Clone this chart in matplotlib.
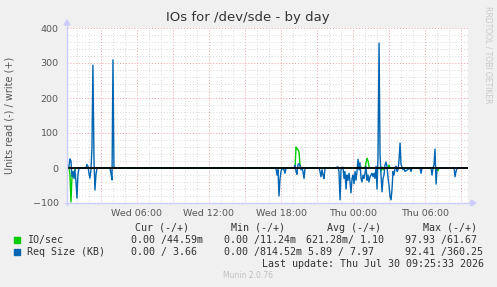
import numpy as np
import matplotlib
matplotlib.use("Agg")
import matplotlib.pyplot as plt
from matplotlib.lines import Line2D
from matplotlib.patches import Polygon, Rectangle

# 时间单位：小时，0 = Wed 00:00
blue_t = [0.17, 0.33, 0.42, 0.5, 0.58, 0.67, 0.75, 0.83, 0.92, 1.0, 1.08, 1.17,
          1.75, 1.83, 1.92, 2.0, 2.08, 2.17, 2.25, 2.33, 2.42, 2.5, 2.58, 2.67,
          3.75, 3.83, 3.92, 4.0, 4.08, 4.17,
          17.58, 17.67, 17.75, 17.83, 17.92, 18.0, 18.08, 18.25, 18.33, 18.42,
          19.08, 19.17, 19.25, 19.33, 19.42, 19.5, 19.58, 19.67, 19.75, 19.83, 19.92, 20.0,
          21.17, 21.25, 21.33, 21.42, 21.5, 21.58, 21.67,
          22.58, 22.67, 22.75, 22.83, 22.92, 23.0, 23.08, 23.17, 23.25, 23.33, 23.42,
          23.5, 23.58, 23.67, 23.75, 23.83, 23.92, 24.0, 24.08, 24.17, 24.25, 24.33,
          24.42, 24.5, 24.58, 24.67, 24.75, 24.83, 24.92, 25.0, 25.08, 25.17, 25.25,
          25.33, 25.42, 25.5, 25.58, 25.67, 25.75, 25.83, 25.92, 26.0, 26.08, 26.17,
          26.25, 26.33, 26.42, 26.5, 26.58, 26.67, 26.75, 26.83, 26.92, 27.0, 27.08,
          27.17, 27.25, 27.33, 27.42, 27.5, 27.58, 27.67, 27.75, 27.83, 27.92, 28.0,
          28.17, 28.25, 28.33, 28.75, 28.83, 28.92,
          29.58, 29.67, 29.75, 30.5, 30.58, 30.67, 30.75, 30.83, 30.92, 31.0,
          32.42, 32.5, 32.58, 32.67, 33.58]
blue_v = [0, 5, 26, 20, -25, -10, -30, -5, -40, -86, -20, 0,
          0, 10, 5, -15, -29, -5, 60, 294, 20, -63, -20, 0,
          0, -15, -34, 309, 5, 0,
          0, -20, -5, -80, -30, -10, 0, -5, -15, 0,
          0, 8, -10, -18, 11, 12, 8, -5, 0, -10, -30, 0,
          0, -10, -25, -5, -20, -30, 0,
          0, 3, 3, -10, -91, -5, 2, 2, -30, -10, -60,
          -20, -35, -15, -40, -71, -30, -20, -45, -10, -35, -10,
          25, -5, 15, -30, -40, -20, -30, -15, 5, -35, -20,
          -40, -25, -20, -15, -25, -15, -30, 5, -60, 30, 357,
          40, -20, -68, -30, -20, 10, 17, 5, -30, -50, -80,
          -91, -60, -10, -20, 0, 5, -10, -5, 20, 71, 10,
          -5, 0, -10, 0, -10, 0,
          0, -15, 0, 0, -20, 0, 10, 54, -46, 0,
          0, -25, -10, 0, 0]

green_t = [0.17, 0.33, 0.42, 0.5, 0.58, 0.67, 0.75, 0.83, 0.92,
           3.92, 4.0, 4.08,
           19.17, 19.25, 19.33, 19.42, 19.5, 19.58, 19.67,
           24.42, 24.5, 24.58, 24.67, 24.75,
           25.0, 25.08, 25.17, 25.25, 25.33, 25.42,
           26.25, 26.33, 26.42, 26.5, 26.58,
           26.92, 27.0, 27.08,
           31.0, 31.08, 31.17]
green_v = [0, 5, -20, -97, -30, -15, -12, -5, 0,
           0, 3, 0,
           0, 60, 55, 52, 45, 10, 0,
           0, 8, -5, 3, 0,
           0, 15, 28, 20, 5, 0,
           0, -10, 3, -5, 0,
           0, 8, 0,
           0, -8, 0]

x_ticks = [6, 12, 18, 24, 30]
x_labels = ["Wed 06:00", "Wed 12:00", "Wed 18:00", "Thu 00:00", "Thu 06:00"]
y_ticks = [-100, 0, 100, 200, 300, 400]

W, H = 497, 287
fig = plt.figure(figsize=(W / 100, H / 100), dpi=100, facecolor="#F0F0F0")


def fx(px):
    return px / W


def fy(py):
    return 1 - py / H


left, right, top, bottom = 67, 468, 28, 203
ax = fig.add_axes([fx(left), fy(bottom), fx(right - left), (bottom - top) / H])
ax.set_facecolor("white")
ax.set_xlim(0.17, 33.58)
ax.set_ylim(-100, 400)

# 网格
for h in np.arange(1, 34, 1):
    c = "#F0A0A0" if h % 3 == 0 else "#D8D8D8"
    ax.axvline(h, color=c, lw=0.7, ls=(0, (1, 2)), zorder=1)
for v in np.arange(-80, 400, 20):
    c = "#F0A0A0" if v % 100 == 0 else "#D8D8D8"
    ax.axhline(v, color=c, lw=0.7, ls=(0, (1, 2)), zorder=1)
ax.axhline(400, color="#F0A0A0", lw=0.7, ls=(0, (1, 2)), zorder=1)

ax.plot(green_t, green_v, color="#00CC00", lw=1.0, zorder=3)
ax.plot(blue_t, blue_v, color="#0066B3", lw=1.0, zorder=4)
ax.axhline(0, color="black", lw=1.3, zorder=5)

ax.set_xticks(x_ticks)
ax.set_xticklabels(x_labels)
ax.set_yticks(y_ticks)
ax.tick_params(length=0, labelsize=6.8, labelcolor="#555555")
ax.tick_params(axis="y", pad=6)
ax.tick_params(axis="x", pad=4)
for s in ax.spines.values():
    s.set_visible(False)

# 坐标轴和箭头
ax_col = "#CCCCFF"
fig.add_artist(Line2D([fx(left), fx(left)], [fy(bottom + 2), fy(top - 4)],
                      transform=fig.transFigure, color=ax_col, lw=1))
fig.add_artist(Line2D([fx(left - 2), fx(right + 4)], [fy(bottom), fy(bottom)],
                      transform=fig.transFigure, color=ax_col, lw=1))
fig.add_artist(Polygon([[fx(left - 3), fy(top - 3)], [fx(left + 3), fy(top - 3)],
                        [fx(left), fy(top - 8)]], closed=True,
                       transform=fig.transFigure, color=ax_col))
fig.add_artist(Polygon([[fx(right + 3), fy(bottom - 3)], [fx(right + 3), fy(bottom + 3)],
                        [fx(right + 8), fy(bottom)]], closed=True,
                       transform=fig.transFigure, color=ax_col))

fig.text(fx(248), fy(18), "IOs for /dev/sde - by day", ha="center", va="center",
         fontsize=9.5, color="#333333")
fig.text(fx(10), fy(115), "Units read (-) / write (+)", rotation=90,
         ha="center", va="center", fontsize=7, color="#555555")
fig.text(fx(488), fy(6), "RRDTOOL / TOBI OETIKER", rotation=270,
         ha="center", va="top", fontsize=5.5, color="#C8C8C8")

# 图例
mono = dict(family="DejaVu Sans Mono", fontsize=7.2, color="#333333", va="center")
fig.text(fx(135), fy(228), "Cur (-/+)", **mono)
fig.text(fx(231), fy(228), "Min (-/+)", **mono)
fig.text(fx(327), fy(228), "Avg (-/+)", **mono)
fig.text(fx(423), fy(228), "Max (-/+)", **mono)

fig.add_artist(Rectangle((fx(14), fy(243)), fx(6), 6 / H,
                         transform=fig.transFigure, color="#00CC00"))
fig.add_artist(Rectangle((fx(14), fy(255)), fx(6), 6 / H,
                         transform=fig.transFigure, color="#0066B3"))
fig.text(fx(27), fy(240), "IO/sec", **mono)
fig.text(fx(131), fy(240), "0.00 /44.59m", **mono)
fig.text(fx(224), fy(240), "0.00 /11.24m", **mono)
fig.text(fx(306), fy(240), "621.28m/ 1.10", **mono)
fig.text(fx(405), fy(240), "97.93 /61.67", **mono)

fig.text(fx(27), fy(252), "Req Size (KB)", **mono)
fig.text(fx(131), fy(252), "0.00 / 3.66", **mono)
fig.text(fx(224), fy(252), "0.00 /814.52m", **mono)
fig.text(fx(308), fy(252), "5.89 / 7.97", **mono)
fig.text(fx(405), fy(252), "92.41 /360.25", **mono)

fig.text(fx(262), fy(264), "Last update: Thu Jul 30 09:25:33 2026", **mono)
fig.text(fx(248), fy(276), "Munin 2.0.76", ha="center", va="center",
         fontsize=5.5, color="#C0C0C0")

fig.savefig("out.png", dpi=100, facecolor=fig.get_facecolor())
